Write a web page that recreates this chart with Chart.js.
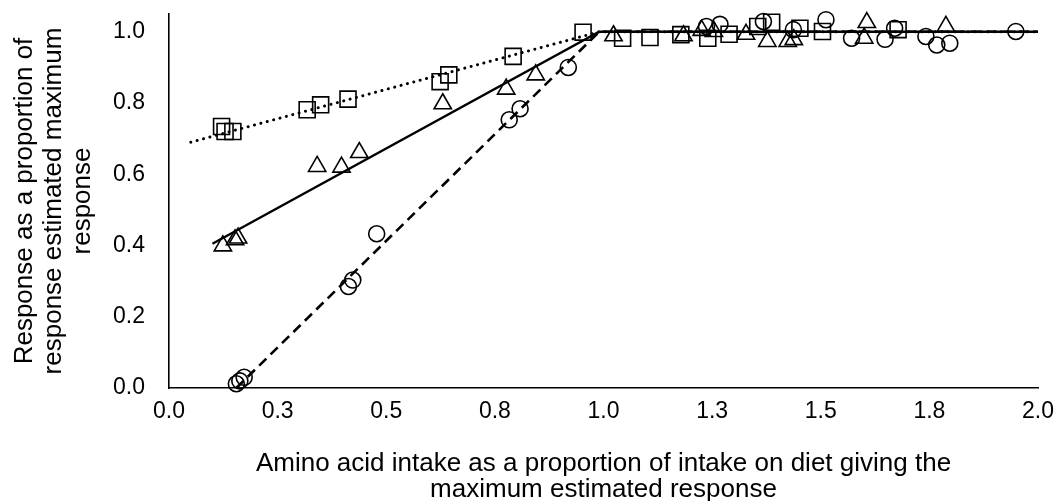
<!DOCTYPE html>
<html lang="en">
<head>
    <meta charset="UTF-8">
    <title>Response vs amino acid intake</title>
    <script src="https://cdn.jsdelivr.net/npm/chart.js"></script>
    <style>
        body {
            margin: 0;
            background: #fff;
        }
        #wrap {
            width: 1060px;
            height: 501px;
        }
    </style>
</head>
<body>
    <div id="wrap"><canvas id="myChart" width="1060" height="501"></canvas></div>

    <script>
        const squareX = [0.121, 0.129, 0.147, 0.318, 0.349, 0.412, 0.624, 0.644, 0.792, 0.953, 1.044, 1.107, 1.178, 1.240, 1.289, 1.355, 1.387, 1.452, 1.504, 1.678];
        const squareY = [0.734, 0.720, 0.720, 0.781, 0.795, 0.811, 0.860, 0.879, 0.931, 0.999, 0.982, 0.984, 0.992, 0.982, 0.993, 1.015, 1.027, 1.010, 1.001, 1.006];

        const triangleX = [0.124, 0.152, 0.159, 0.341, 0.397, 0.438, 0.630, 0.776, 0.844, 1.023, 1.184, 1.226, 1.254, 1.328, 1.377, 1.424, 1.438, 1.600, 1.606, 1.788];
        const triangleY = [0.399, 0.416, 0.421, 0.622, 0.620, 0.661, 0.798, 0.839, 0.879, 0.989, 0.989, 1.004, 1.001, 0.993, 0.973, 0.973, 0.978, 0.982, 1.026, 1.015];

        const circleX = [0.155, 0.163, 0.173, 0.413, 0.423, 0.478, 0.783, 0.808, 0.919, 1.237, 1.268, 1.368, 1.437, 1.512, 1.571, 1.648, 1.670, 1.742, 1.767, 1.797, 1.949];
        const circleY = [0.012, 0.020, 0.030, 0.285, 0.303, 0.433, 0.753, 0.784, 0.900, 1.015, 1.021, 1.029, 1.006, 1.034, 0.982, 0.979, 1.010, 0.987, 0.963, 0.968, 1.001];

        // broken-line fits
        const dottedFitX = [0.05, 0.99, 2.0];
        const dottedFitY = [0.69, 1.0, 1.0];
        const solidFitX = [0.10, 0.99, 2.0];
        const solidFitY = [0.405, 1.0, 1.0];
        const dashedFitX = [0.155, 0.99, 2.0];
        const dashedFitY = [0.0, 1.0, 1.0];

        const xTitle = ['Amino acid intake as a proportion of intake on diet giving the', 'maximum estimated response'];
        const yTitle = ['Response as a proportion of', 'response estimated maximum', 'response'];

        const toPoints = (xs, ys) => xs.map((x, i) => ({ x: x, y: ys[i] }));
        const fontFamily = '"Liberation Sans", Arial, sans-serif';

        function markerSet(xs, ys, style, radius) {
            return {
                type: 'scatter',
                data: toPoints(xs, ys),
                pointStyle: style,
                pointRadius: radius,
                pointHoverRadius: radius,
                pointBorderWidth: 1.6,
                borderColor: '#000',
                backgroundColor: 'rgba(0,0,0,0)',
                showLine: false,
                clip: false
            };
        }

        function fitLine(xs, ys, dash, width) {
            return {
                type: 'line',
                data: toPoints(xs, ys),
                borderColor: '#000',
                borderWidth: width,
                borderDash: dash,
                borderCapStyle: dash.length && dash[0] < 1 ? 'round' : 'butt',
                pointRadius: 0,
                tension: 0,
                fill: false,
                clip: false
            };
        }

        const ctx = document.getElementById('myChart').getContext('2d');
        new Chart(ctx, {
            type: 'scatter',
            data: {
                datasets: [
                    fitLine(dottedFitX, dottedFitY, [0.1, 6.5], 3),
                    fitLine(solidFitX, solidFitY, [], 2.4),
                    fitLine(dashedFitX, dashedFitY, [10, 6], 2.6),
                    markerSet(squareX, squareY, 'rect', 11.3),
                    markerSet(triangleX, triangleY, 'triangle', 10),
                    markerSet(circleX, circleY, 'circle', 8)
                ]
            },
            options: {
                responsive: false,
                animation: false,
                devicePixelRatio: 1,
                layout: { padding: { left: 0, right: 22, top: 14, bottom: 0 } },
                plugins: {
                    legend: { display: false },
                    tooltip: { enabled: false }
                },
                scales: {
                    x: {
                        type: 'linear',
                        min: 0,
                        max: 2.0,
                        grid: { display: false, drawTicks: false },
                        border: { display: true, color: '#000', width: 1.6 },
                        ticks: {
                            stepSize: 0.25,
                            includeBounds: false,
                            padding: 10,
                            color: '#000',
                            font: { family: fontFamily, size: 23 },
                            callback: v => v.toFixed(1)
                        },
                        title: {
                            display: true,
                            text: xTitle,
                            color: '#000',
                            padding: { top: 0, bottom: -2 },
                            font: { family: fontFamily, size: 26, lineHeight: 1.0 }
                        },
                        afterFit: scale => {
                            scale.height = 113;
                            scale.paddingLeft = 0;
                            scale.paddingRight = 0;
                        }
                    },
                    y: {
                        type: 'linear',
                        min: 0,
                        max: 1.05,
                        grid: { display: false, drawTicks: false },
                        border: { display: true, color: '#000', width: 1.6 },
                        ticks: {
                            stepSize: 0.2,
                            includeBounds: false,
                            padding: 24,
                            color: '#000',
                            font: { family: fontFamily, size: 23 },
                            callback: v => v.toFixed(1)
                        },
                        title: {
                            display: true,
                            text: yTitle,
                            color: '#000',
                            padding: { top: 10, bottom: 0 },
                            font: { family: fontFamily, size: 26, lineHeight: 1.12 }
                        },
                        afterFit: scale => {
                            scale.width = 169;
                            scale.paddingTop = 0;
                            scale.paddingBottom = 0;
                        }
                    }
                }
            }
        });
    </script>
</body>
</html>
